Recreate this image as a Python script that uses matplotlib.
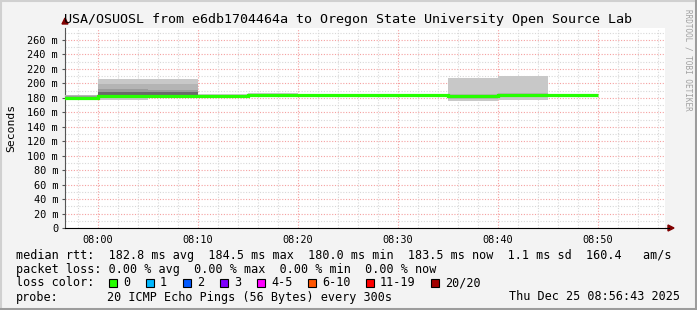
import matplotlib
matplotlib.use("Agg")
import matplotlib.pyplot as plt
from matplotlib.lines import Line2D
from matplotlib.patches import Rectangle, Polygon
import numpy as np

# 5 minute steps, minutes relative to 08:00
step_edges = [-5, 0, 5, 10, 15, 20, 25, 30, 35, 40, 45, 50]
median_rtt = [180.0, 183.0, 183.0, 182.8, 184.0, 184.0, 183.5, 183.5, 182.0, 184.5, 183.5]
ping_min = [178.5, 177.0, 180.0, 181.5, 182.5, 182.5, 182.0, 182.0, 176.0, 177.5, 181.5]
ping_max = [184.5, 206.0, 205.5, 185.5, 186.5, 185.5, 185.0, 185.0, 208.0, 210.0, 185.0]
ping_p10 = [179.0, 181.0, 181.5, 182.0, 183.0, 183.0, 182.5, 182.5, 179.0, 181.0, 182.0]
ping_p90 = [183.5, 199.0, 198.5, 184.5, 185.5, 185.0, 184.5, 184.5, 186.0, 187.0, 184.5]
ping_p25 = [179.5, 181.5, 182.0, 182.3, 183.5, 183.5, 183.0, 183.0, 181.0, 183.0, 183.0]
ping_p75 = [182.0, 192.0, 191.5, 183.5, 185.0, 184.5, 184.0, 184.0, 183.5, 185.5, 184.0]
ping_p40 = [179.8, 182.0, 182.5, 182.6, 183.8, 183.8, 183.3, 183.3, 181.8, 184.0, 183.3]
ping_p60 = [180.5, 188.0, 188.0, 183.2, 184.5, 184.3, 183.8, 183.8, 182.8, 185.0, 183.8]

y_ticks = [0, 20, 40, 60, 80, 100, 120, 140, 160, 180, 200, 220, 240, 260]
x_ticks = [0, 10, 20, 30, 40, 50]
x_labels = ["08:00", "08:10", "08:20", "08:30", "08:40", "08:50"]

loss_labels = ["0", "1", "2", "3", "4-5", "6-10", "11-19", "20/20"]
loss_colors = ["#26ff00", "#00b8ff", "#0059ff", "#7e00ff", "#ff00ff", "#ff5500", "#ff0000", "#a10000"]

title = "USA/OSUOSL from e6db1704464a to Oregon State University Open Source Lab"
row_rtt = "median rtt:  182.8 ms avg  184.5 ms max  180.0 ms min  183.5 ms now  1.1 ms sd  160.4   am/s"
row_loss = "packet loss: 0.00 % avg  0.00 % max  0.00 % min  0.00 % now"
probe_text = "20 ICMP Echo Pings (56 Bytes) every 300s"
stamp = "Thu Dec 25 08:56:43 2025"

W, H = 697, 310
mono = "DejaVu Sans Mono"

fig = plt.figure(figsize=(W / 100, H / 100), dpi=100)
fig.patch.set_facecolor("#f3f3f3")

# plot area: x 65..665, y 28..228 (pixels from top)
ax = fig.add_axes([65 / W, (H - 228) / H, 600 / W, 200 / H])
ax.set_facecolor("white")
ax.set_xlim(-3.28, 56.72)
ax.set_ylim(0, 276.6)

# grid
for v in np.arange(10, 276, 10):
    major = v % 20 == 0
    ax.axhline(v, color="#f5a0a0" if major else "#d8d8d8", lw=0.8,
               ls=(0, (1, 1.5)), zorder=1, clip_on=False)
for v in np.arange(-2, 57, 2):
    major = v % 10 == 0
    ax.axvline(v, color="#f5a0a0" if major else "#d8d8d8", lw=0.8,
               ls=(0, (1, 1.5)), zorder=1)

# smoke, lighter outside, darker toward the median
ax.stairs(ping_max, step_edges, baseline=ping_min, fill=True, color="#c8c8c8", zorder=2)
ax.stairs(ping_p90, step_edges, baseline=ping_p10, fill=True, color="#b4b4b4", zorder=3)
ax.stairs(ping_p75, step_edges, baseline=ping_p25, fill=True, color="#9c9c9c", zorder=4)
ax.stairs(ping_p60, step_edges, baseline=ping_p40, fill=True, color="#6a6a6a", zorder=4)
# median
ax.stairs(median_rtt, step_edges, baseline=None, color="#26ff00", lw=2.3, zorder=5)

for s in ["top", "right"]:
    ax.spines[s].set_visible(False)
ax.spines["left"].set_color("#555555")
ax.spines["bottom"].set_color("black")

ax.set_yticks(y_ticks)
ax.set_yticklabels([f"{v} m" if v else "0" for v in y_ticks], family=mono, fontsize=7.4)
ax.set_xticks(x_ticks)
ax.set_xticklabels(x_labels, family=mono, fontsize=7.4)
ax.tick_params(axis="both", length=2, width=0.8, color="#555555", pad=3)
ax.tick_params(axis="x", length=0, pad=5)
ax.set_ylabel("Seconds", family=mono, fontsize=8.2, labelpad=8)

# axis arrows
fig.add_artist(Polygon([[62 / W, 1 - 24 / H], [68 / W, 1 - 24 / H], [65 / W, 1 - 18 / H]],
                       closed=True, color="#800000", transform=fig.transFigure))
fig.add_artist(Polygon([[668 / W, 1 - 225 / H], [668 / W, 1 - 231 / H], [674 / W, 1 - 228 / H]],
                       closed=True, color="#800000", transform=fig.transFigure))
fig.add_artist(Line2D([665 / W, 669 / W], [1 - 228 / H, 1 - 228 / H], color="black", lw=0.8))

fig.text(348 / W, 1 - 19 / H, title, family=mono, fontsize=9.6, ha="center", va="center")
fig.text(688 / W, 1 - 60 / H, "RRDTOOL / TOBI OETIKER", family=mono, fontsize=5.5,
         color="#a0a0a0", rotation=270, ha="center", va="center")

# legend rows
fs = 8.5
fig.text(16 / W, 1 - 255 / H, row_rtt, family=mono, fontsize=fs, va="center")
fig.text(16 / W, 1 - 269 / H, row_loss, family=mono, fontsize=fs, va="center")
fig.text(16 / W, 1 - 283 / H, "loss color:", family=mono, fontsize=fs, va="center")
fig.text(16 / W, 1 - 297 / H, "probe:", family=mono, fontsize=fs, va="center")
fig.text(107 / W, 1 - 297 / H, probe_text, family=mono, fontsize=fs, va="center")
fig.text(680 / W, 1 - 297 / H, stamp, family=mono, fontsize=fs, va="center", ha="right")

box_x = [109, 146, 183, 220, 257, 308, 366, 431]
for bx, lab, col in zip(box_x, loss_labels, loss_colors):
    fig.add_artist(Rectangle((bx / W, 1 - 287 / H), 8 / W, 8 / H, facecolor=col,
                             edgecolor="black", lw=0.8, transform=fig.transFigure))
    fig.text((bx + 14) / W, 1 - 283 / H, lab, family=mono, fontsize=fs, va="center")

# window frame
fig.add_artist(Line2D([0, 1], [1 - 1 / H, 1 - 1 / H], color="#d0d0d0", lw=1.5))
fig.add_artist(Line2D([1 / W, 1 / W], [0, 1], color="#d0d0d0", lw=1.5))
fig.add_artist(Line2D([1 - 1.5 / W, 1 - 1.5 / W], [0, 1], color="#9c9c9c", lw=2.2))
fig.add_artist(Line2D([0, 1], [1.5 / H, 1.5 / H], color="#9c9c9c", lw=2.2))

fig.savefig("out.png", dpi=100, facecolor=fig.get_facecolor())
